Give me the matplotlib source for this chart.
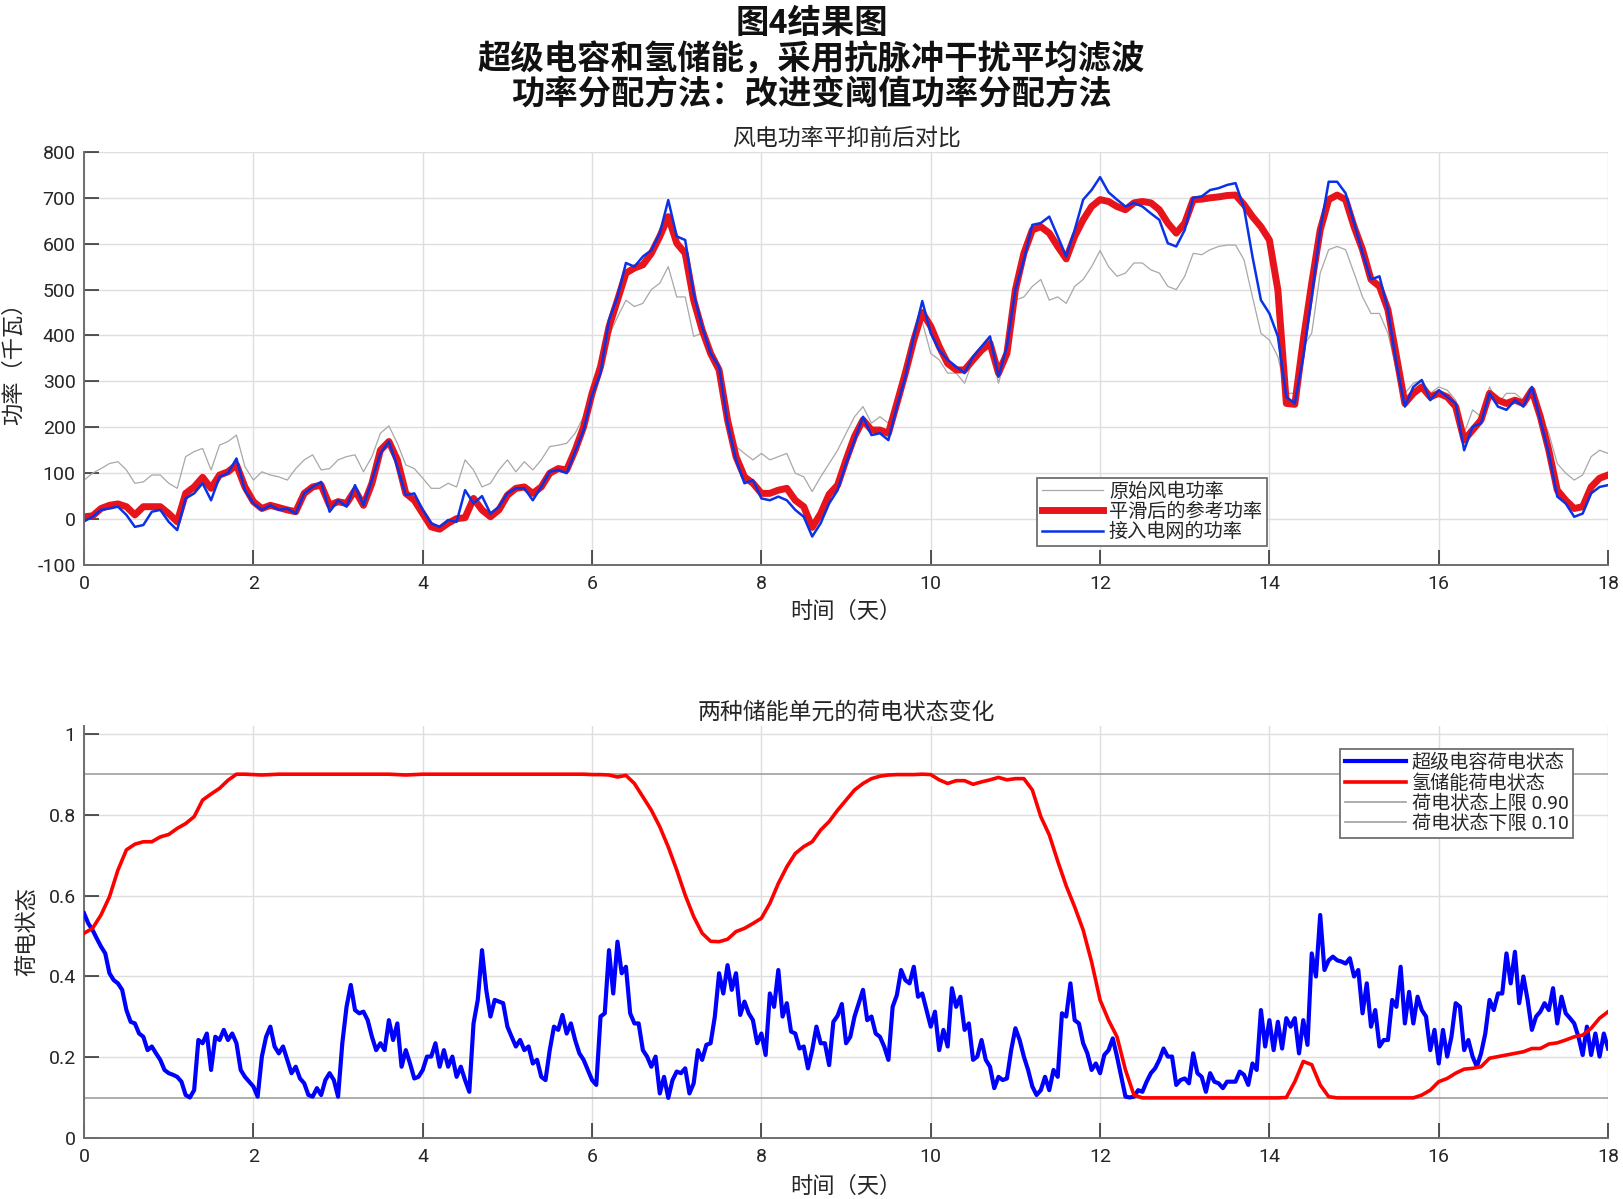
import numpy as np
import matplotlib
matplotlib.use("Agg")
import matplotlib.pyplot as plt

plt.rcParams['font.family'] = ['Roboto', 'Noto Sans CJK SC', 'DejaVu Sans']
plt.rcParams['axes.unicode_minus'] = False

# ---- top panel data (kW), one value every 0.1 day ----
raw_power = [
    85, 100, 110, 121, 125, 107, 78, 81, 96, 96,
    78, 67, 136, 147, 154, 107, 161, 169, 183, 114,
    85, 103, 96, 92, 85, 110, 129, 140, 107, 110,
    129, 136, 140, 103, 136, 187, 203, 165, 118, 110,
    89, 67, 67, 78, 70, 129, 107, 70, 78, 107,
    129, 103, 125, 107, 129, 158, 161, 165, 187, 223,
    274, 325, 400, 440, 477, 463, 470, 500, 514, 550,
    484, 484, 398, 405, 354, 318, 194, 158, 143, 129,
    143, 129, 136, 143, 100, 92, 60, 92, 121, 150,
    187, 223, 245, 209, 223, 209, 245, 310, 383, 430,
    361, 347, 318, 318, 296, 347, 361, 376, 296, 361,
    477, 484, 507, 522, 477, 484, 470, 507, 522, 550,
    585, 550, 529, 536, 558, 558, 543, 536, 507, 500,
    529, 579, 576, 587, 594, 597, 597, 565, 484, 405,
    390, 354, 274, 274, 376, 405, 536, 587, 594, 587,
    536, 484, 448, 448, 405, 325, 274, 296, 303, 274,
    288, 281, 259, 187, 238, 223, 288, 252, 274, 274,
    259, 288, 230, 187, 121, 100, 85, 96, 136, 150,
    143]

ref_power = [
    5, 7, 23, 30, 33, 27, 9, 27, 27, 27,
    12, -6, 56, 70, 91, 67, 96, 103, 118, 70,
    38, 23, 30, 25, 20, 16, 56, 70, 74, 30,
    38, 34, 63, 30, 78, 150, 169, 129, 56, 41,
    12, -17, -22, -9, 1, 3, 45, 20, 5, 20,
    52, 67, 70, 56, 70, 100, 110, 107, 150, 201,
    274, 332, 419, 477, 536, 547, 554, 579, 616, 659,
    601, 579, 477, 412, 361, 325, 216, 136, 92, 78,
    56, 56, 63, 67, 41, 27, -18, 12, 54, 74,
    129, 180, 216, 194, 194, 187, 252, 318, 390, 450,
    420, 376, 339, 325, 325, 347, 368, 383, 318, 361,
    500, 579, 630, 637, 623, 594, 567, 616, 652, 681,
    696, 692, 681, 674, 689, 692, 689, 674, 645, 623,
    645, 696, 697, 700, 702, 705, 706, 685, 659, 637,
    608, 499, 252, 250, 390, 514, 630, 696, 706, 696,
    637, 587, 522, 507, 456, 355, 252, 274, 288, 266,
    274, 266, 245, 172, 194, 216, 274, 259, 252, 259,
    252, 281, 223, 150, 63, 41, 23, 27, 70, 89,
    96]

grid_power = [
    -5, 5, 20, 23, 27, 9, -17, -13, 16, 20,
    -6, -24, 45, 56, 78, 41, 92, 100, 132, 63,
    34, 20, 30, 20, 23, 12, 56, 70, 81, 16,
    41, 27, 74, 30, 85, 143, 169, 114, 52, 56,
    20, -9, -17, -2, -6, 63, 34, 50, 12, 27,
    56, 67, 67, 41, 70, 103, 107, 100, 147, 194,
    270, 318, 434, 484, 558, 550, 572, 586, 623, 695,
    616, 608, 491, 419, 361, 332, 209, 129, 78, 85,
    45, 41, 49, 41, 20, 5, -38, -9, 34, 63,
    121, 172, 223, 183, 187, 172, 245, 310, 398, 475,
    405, 368, 347, 332, 318, 354, 376, 398, 310, 376,
    500, 565, 641, 645, 659, 616, 572, 630, 696, 717,
    745, 712, 696, 681, 689, 681, 666, 652, 601, 594,
    630, 700, 703, 717, 721, 728, 732, 678, 572, 477,
    448, 398, 266, 252, 354, 484, 630, 735, 735, 710,
    645, 580, 522, 529, 456, 340, 245, 288, 303, 259,
    281, 266, 252, 150, 201, 209, 274, 245, 238, 259,
    245, 288, 216, 143, 49, 34, 5, 12, 56, 70,
    74]

# ---- bottom panel data ----
# supercapacitor SOC, one value every 0.05 day
sc_soc = [
    0.556, 0.531, 0.515, 0.494, 0.474, 0.457, 0.408, 0.391, 0.383, 0.367, 0.317, 0.288, 0.284, 0.259, 0.251, 0.218, 0.227, 0.210, 0.194, 0.169,
    0.161, 0.157, 0.152, 0.140, 0.107, 0.101, 0.119, 0.243, 0.235, 0.259, 0.169, 0.251, 0.243, 0.268, 0.243, 0.259, 0.235, 0.169, 0.152, 0.140,
    0.128, 0.103, 0.202, 0.251, 0.276, 0.227, 0.210, 0.227, 0.194, 0.161, 0.177, 0.148, 0.136, 0.107, 0.103, 0.124, 0.107, 0.144, 0.161, 0.144,
    0.103, 0.235, 0.325, 0.379, 0.317, 0.309, 0.313, 0.292, 0.251, 0.218, 0.235, 0.218, 0.292, 0.243, 0.284, 0.177, 0.218, 0.185, 0.148, 0.152,
    0.169, 0.202, 0.202, 0.235, 0.177, 0.218, 0.177, 0.202, 0.152, 0.177, 0.144, 0.115, 0.284, 0.342, 0.465, 0.367, 0.301, 0.342, 0.338, 0.334,
    0.276, 0.251, 0.227, 0.243, 0.218, 0.227, 0.185, 0.194, 0.152, 0.144, 0.218, 0.276, 0.268, 0.305, 0.259, 0.284, 0.243, 0.210, 0.194, 0.169,
    0.144, 0.132, 0.301, 0.309, 0.465, 0.358, 0.486, 0.408, 0.424, 0.309, 0.284, 0.284, 0.218, 0.202, 0.177, 0.202, 0.111, 0.152, 0.100, 0.144,
    0.165, 0.161, 0.173, 0.111, 0.136, 0.218, 0.194, 0.231, 0.235, 0.301, 0.408, 0.358, 0.428, 0.367, 0.408, 0.305, 0.338, 0.309, 0.292, 0.235,
    0.259, 0.206, 0.358, 0.325, 0.416, 0.301, 0.334, 0.264, 0.259, 0.222, 0.227, 0.173, 0.218, 0.276, 0.235, 0.235, 0.181, 0.288, 0.303, 0.332,
    0.235, 0.251, 0.301, 0.334, 0.367, 0.292, 0.301, 0.259, 0.251, 0.227, 0.194, 0.325, 0.354, 0.416, 0.391, 0.383, 0.424, 0.350, 0.358, 0.317,
    0.276, 0.313, 0.218, 0.268, 0.227, 0.371, 0.325, 0.350, 0.268, 0.284, 0.194, 0.202, 0.243, 0.194, 0.177, 0.124, 0.152, 0.144, 0.148, 0.218,
    0.272, 0.243, 0.202, 0.169, 0.128, 0.107, 0.119, 0.152, 0.119, 0.169, 0.152, 0.309, 0.301, 0.383, 0.292, 0.284, 0.235, 0.210, 0.169, 0.185,
    0.161, 0.206, 0.218, 0.247, 0.202, 0.152, 0.103, 0.101, 0.103, 0.119, 0.115, 0.140, 0.161, 0.173, 0.194, 0.222, 0.202, 0.202, 0.132, 0.144,
    0.148, 0.136, 0.210, 0.161, 0.152, 0.115, 0.161, 0.140, 0.136, 0.124, 0.140, 0.140, 0.140, 0.165, 0.157, 0.132, 0.185, 0.169, 0.317, 0.227,
    0.292, 0.218, 0.288, 0.222, 0.297, 0.276, 0.297, 0.210, 0.292, 0.231, 0.457, 0.400, 0.552, 0.416, 0.440, 0.449, 0.440, 0.437, 0.432, 0.445,
    0.400, 0.416, 0.309, 0.383, 0.276, 0.317, 0.227, 0.243, 0.243, 0.342, 0.325, 0.424, 0.284, 0.362, 0.284, 0.350, 0.317, 0.301, 0.218, 0.268,
    0.185, 0.268, 0.202, 0.251, 0.334, 0.325, 0.218, 0.243, 0.202, 0.177, 0.210, 0.259, 0.342, 0.317, 0.358, 0.358, 0.457, 0.383, 0.461, 0.334,
    0.400, 0.342, 0.268, 0.301, 0.313, 0.334, 0.317, 0.371, 0.284, 0.350, 0.309, 0.297, 0.284, 0.251, 0.206, 0.276, 0.206, 0.259, 0.202, 0.259,
    0.222]

# hydrogen storage SOC, one value every 0.1 day
h2_soc = [
    0.507, 0.519, 0.552, 0.597, 0.663, 0.713, 0.727, 0.733, 0.733, 0.745,
    0.751, 0.766, 0.778, 0.795, 0.836, 0.851, 0.865, 0.885, 0.900, 0.900,
    0.899, 0.898, 0.899, 0.900, 0.900, 0.900, 0.900, 0.900, 0.900, 0.900,
    0.900, 0.900, 0.900, 0.900, 0.900, 0.900, 0.900, 0.899, 0.898, 0.899,
    0.900, 0.900, 0.900, 0.900, 0.900, 0.900, 0.900, 0.900, 0.900, 0.900,
    0.900, 0.900, 0.900, 0.900, 0.900, 0.900, 0.900, 0.900, 0.900, 0.900,
    0.899, 0.899, 0.898, 0.893, 0.897, 0.877, 0.844, 0.811, 0.770, 0.720,
    0.663, 0.601, 0.548, 0.507, 0.487, 0.486, 0.492, 0.511, 0.519, 0.531,
    0.544, 0.581, 0.630, 0.671, 0.704, 0.721, 0.733, 0.762, 0.783, 0.811,
    0.836, 0.861, 0.877, 0.889, 0.895, 0.898, 0.899, 0.899, 0.899, 0.900,
    0.899, 0.886, 0.877, 0.884, 0.884, 0.875, 0.881, 0.886, 0.892, 0.886,
    0.889, 0.889, 0.861, 0.795, 0.750, 0.685, 0.624, 0.572, 0.515, 0.436,
    0.342, 0.292, 0.251, 0.169, 0.107, 0.100, 0.100, 0.100, 0.100, 0.100,
    0.100, 0.100, 0.100, 0.100, 0.100, 0.100, 0.100, 0.100, 0.100, 0.100,
    0.100, 0.100, 0.101, 0.140, 0.190, 0.182, 0.132, 0.103, 0.100, 0.100,
    0.100, 0.100, 0.100, 0.100, 0.100, 0.100, 0.100, 0.100, 0.107, 0.119,
    0.140, 0.148, 0.161, 0.171, 0.173, 0.177, 0.198, 0.202, 0.206, 0.210,
    0.214, 0.222, 0.222, 0.233, 0.236, 0.243, 0.251, 0.255, 0.272, 0.297,
    0.313]

soc_upper = 0.90
soc_lower = 0.10
days_end = 18

t_power = np.linspace(0, days_end, len(ref_power))
t_sc = np.linspace(0, days_end, len(sc_soc))
t_h2 = np.linspace(0, days_end, len(h2_soc))

txt_color = '#262626'
axis_color = '#6e6e6e'
grid_color = '#dedede'


def style_axes(ax):
    for side in ['top', 'right']:
        ax.spines[side].set_visible(False)
    for side in ['left', 'bottom']:
        ax.spines[side].set_color(axis_color)
        ax.spines[side].set_linewidth(1.4)
    ax.grid(True, color=grid_color, linewidth=1.0)
    ax.set_axisbelow(True)
    ax.tick_params(direction='in', length=11, width=1.1, color=txt_color,
                   labelsize=14, labelcolor=txt_color)
    ax.tick_params(axis='x', pad=7)
    ax.tick_params(axis='y', pad=6)
    ax.set_xlim(0, days_end)
    ax.set_xticks(np.arange(0, days_end + 1, 2))


def style_legend(leg):
    leg.get_frame().set_edgecolor('#707070')
    leg.get_frame().set_linewidth(1.3)
    for txt in leg.get_texts():
        txt.set_color(txt_color)


fig = plt.figure(figsize=(16.23, 11.99), dpi=100)

fig.suptitle('图4结果图\n超级电容和氢储能，采用抗脉冲干扰平均滤波\n功率分配方法：改进变阈值功率分配方法',
             x=0.5, y=0.9935, va='top', fontsize=24, fontweight='bold',
             linespacing=1.12, color='#111111')

# ---- top: power ----
ax1 = fig.add_axes([0.0518, 0.5288, 0.9390, 0.3445])
style_axes(ax1)
ax1.plot(t_power, raw_power, color='#a8a8a8', linewidth=0.9, label='原始风电功率')
ax1.plot(t_power, ref_power, color='#e8141c', linewidth=5, label='平滑后的参考功率')
ax1.plot(t_power, grid_power, color='#0a32e6', linewidth=1.8, label='接入电网的功率')
ax1.set_ylim(-100, 800)
ax1.set_yticks(np.arange(-100, 801, 100))
ax1.set_title('风电功率平抑前后对比', fontsize=16.5, color=txt_color, pad=5)
ax1.set_xlabel('时间（天）', fontsize=16, color=txt_color)
ax1.set_ylabel('功率（千瓦）', fontsize=16, color=txt_color)
ax1.xaxis.set_label_coords(0.5, -0.090)
ax1.yaxis.set_label_coords(-0.039, 0.5)
leg1 = ax1.legend(loc='upper left', bbox_to_anchor=(0.6253, 0.2107), fontsize=13.8,
                  handlelength=3.2, handletextpad=0.3, labelspacing=0.1,
                  borderpad=0.25, borderaxespad=0, fancybox=False, framealpha=1)
style_legend(leg1)

# ---- bottom: state of charge ----
ax2 = fig.add_axes([0.0518, 0.0506, 0.9390, 0.3442])
style_axes(ax2)
ax2.plot(t_sc, sc_soc, color='#0000ff', linewidth=3, label='超级电容荷电状态', zorder=4)
ax2.plot(t_h2, h2_soc, color='#ff0000', linewidth=2.6, label='氢储能荷电状态', zorder=5)
ax2.axhline(soc_upper, color='#a0a0a0', linewidth=1.2, label='荷电状态上限 0.90', zorder=2)
ax2.axhline(soc_lower, color='#a0a0a0', linewidth=1.2, label='荷电状态下限 0.10', zorder=2)
ax2.set_ylim(0, 1.02)
ax2.set_yticks([0, 0.2, 0.4, 0.6, 0.8, 1])
ax2.set_yticklabels(['0', '0.2', '0.4', '0.6', '0.8', '1'])
ax2.set_title('两种储能单元的荷电状态变化', fontsize=16.5, color=txt_color, pad=5)
ax2.set_xlabel('时间（天）', fontsize=16, color=txt_color)
ax2.set_ylabel('荷电状态', fontsize=16, color=txt_color)
ax2.xaxis.set_label_coords(0.5, -0.093)
ax2.yaxis.set_label_coords(-0.030, 0.5)
leg2 = ax2.legend(loc='upper left', bbox_to_anchor=(0.8241, 0.9433), fontsize=13.8,
                  handlelength=3.2, handletextpad=0.3, labelspacing=0.1,
                  borderpad=0.25, borderaxespad=0, fancybox=False, framealpha=1)
style_legend(leg2)

fig.savefig('out.png', dpi=100)
